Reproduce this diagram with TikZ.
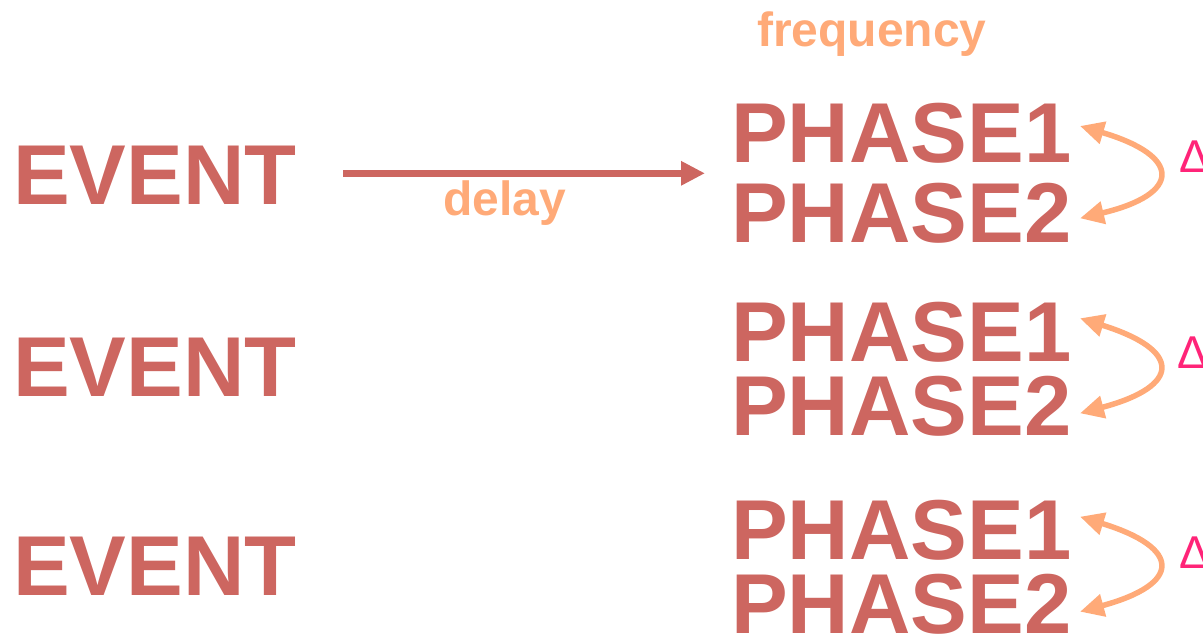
\documentclass[tikz,border=0pt]{standalone}
\usepackage{fontspec}
\setmainfont{Liberation Sans}
\usetikzlibrary{arrows.meta}
\definecolor{evred}{RGB}{205,102,96}
\definecolor{lightorange}{RGB}{255,170,120}
\definecolor{deltapink}{RGB}{255,36,120}
\tikzset{
  bigword/.style={anchor=base west, inner sep=0pt, text=evred, font=\bfseries\fontsize{85}{85}\selectfont},
  smallword/.style={anchor=base west, inner sep=0pt, text=lightorange, font=\bfseries\fontsize{48}{48}\selectfont},
  deltasym/.style={anchor=base west, inner sep=0pt, text=deltapink, font=\fontsize{46}{46}\selectfont},
  delayarrow/.style={draw=evred, line width=7pt, -{Triangle[length=24pt,width=23pt]}},
  phasearrow/.style={draw=lightorange, line width=5.5pt, {Triangle[length=24pt,width=22pt]}-{Triangle[length=24pt,width=22pt]}}
}
\begin{document}
\begin{tikzpicture}[x=1pt,y=-1pt]
\useasboundingbox (0,0) rectangle (1203,634);
% frequency label
\node[smallword] (freq) at (757,46.7) {frequency};
% events
\node[bigword] (e1) at (13,204.3) {EVENT};
\node[bigword] (e2) at (13,396) {EVENT};
\node[bigword] (e3) at (13,595) {EVENT};
% phases
\node[bigword] (p11) at (731,162.7) {PHASE1};
\node[bigword] (p12) at (731,242.7) {PHASE2};
\node[bigword] (p21) at (731,361) {PHASE1};
\node[bigword] (p22) at (731,435) {PHASE2};
\node[bigword] (p31) at (731,559) {PHASE1};
\node[bigword] (p32) at (731,633) {PHASE2};
% deltas
\node[deltasym] (d1) at (1179,172.7) {Δ};
\node[deltasym] (d2) at (1177,368.3) {Δ};
\node[deltasym] (d3) at (1179,568) {Δ};
% delay arrow
\coordinate (as) at (343,173.3);
\coordinate (ae) at (705,173.3);
\draw[delayarrow] (as) -- (ae);
\node[smallword] (delay) at (443,215) {delay};
% phase arrows
\coordinate (t11) at (1080,126);
\coordinate (t12) at (1080,218.3);
\coordinate (t21) at (1080,318.3);
\coordinate (t22) at (1080,413.3);
\coordinate (t31) at (1080,516.7);
\coordinate (t32) at (1080,611.7);
\draw[phasearrow] (t11) .. controls (1182,156) and (1182,194) .. (t12);
\draw[phasearrow] (t21) .. controls (1182,350) and (1182,386) .. (t22);
\draw[phasearrow] (t31) .. controls (1182,548) and (1182,584) .. (t32);
\end{tikzpicture}
\end{document}
